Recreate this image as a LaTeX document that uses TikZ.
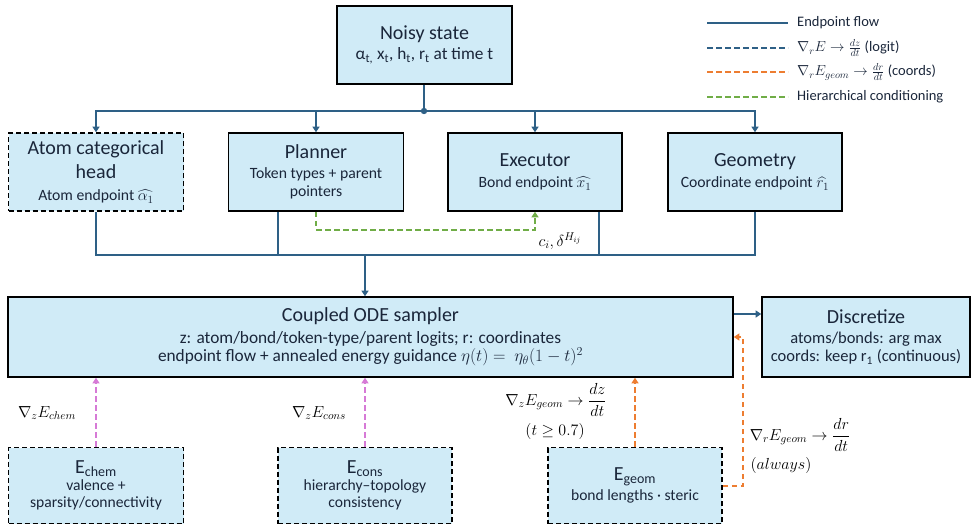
\documentclass[tikz,border=0pt]{standalone}
\usepackage{fix-cm}
\usepackage{amsmath}
\usepackage{fontspec}
\setmainfont{Carlito}
\usetikzlibrary{arrows.meta,calc}
\definecolor{boxfill}{RGB}{208,235,247}
\definecolor{flowc}{RGB}{46,96,134}
\definecolor{txtc}{RGB}{26,38,58}
\definecolor{orc}{RGB}{237,125,49}
\definecolor{grc}{RGB}{112,173,71}
\definecolor{pkc}{RGB}{214,122,214}
\newcommand{\myT}{\fontsize{20}{18}\selectfont}
\newcommand{\myS}{\fontsize{15.7}{18}\selectfont}
\newcommand{\myB}{\fontsize{17.3}{18}\selectfont}
\newcommand{\myE}{\fontsize{16.5}{18}\selectfont}
\newcommand{\myF}{\fontsize{15.6}{17}\selectfont}
\newcommand{\myL}{\fontsize{14.5}{16}\selectfont}
\newcommand{\myM}{\fontsize{16}{19}\selectfont}
\begin{document}
\begin{tikzpicture}[x=1pt,y=-1pt,
  box/.style={draw=black, line width=1.6pt, fill=boxfill, text=txtc, align=center, inner sep=2pt, anchor=center, font=\myS},
  dbox/.style={box, dash pattern=on 5pt off 3pt},
  flow/.style={draw=flowc, line width=1.8pt},
  tip/.style={-{Triangle[width=7pt,length=5.5pt]}},
  dashc/.style={line width=2pt, dash pattern=on 5.5pt off 3.5pt},
  lbl/.style={text=black, inner sep=0pt, anchor=center},
  leg/.style={text=txtc, inner sep=0pt, anchor=west, font=\myL}
]
\useasboundingbox (0,0) rectangle (980,525);

% Top
\node[box, minimum width=175pt, minimum height=78pt, font=\myB] (noisy) at (424.5,45)
  {\myT Noisy state\\[2pt]\myB α\textsubscript{t,} x\textsubscript{t}, h\textsubscript{t}, r\textsubscript{t} at time t};

% Row 2
\node[dbox, minimum width=175pt, minimum height=78pt] (atom) at (96,172)
  {\myT Atom categorical\\[6pt]\myT head\\[4pt]\myS Atom endpoint $\widehat{\alpha_1}$};
\node[box, minimum width=175pt, minimum height=78pt] (planner) at (316,172)
  {\myT Planner\\[2pt]\myS Token types + parent\\\myS pointers};
\node[box, minimum width=174pt, minimum height=78pt] (executor) at (535,172)
  {\myT Executor\\[3pt]\myS Bond endpoint $\widehat{x_1}$};
\node[box, minimum width=174pt, minimum height=78pt] (geometry) at (755,172)
  {\myT Geometry\\[3pt]\myS Coordinate endpoint $\widehat{r_1}$};

% Row 3
\node[box, minimum width=725pt, minimum height=80pt, font=\myB] (coupled) at (370.5,337)
  {\myT Coupled ODE sampler\\[4pt]\myB z: atom/bond/token-type/parent logits; r: coordinates\\\myB endpoint flow + annealed energy guidance $\eta(t) =\ \eta_\theta(1-t)^2$};
\node[box, minimum width=208pt, minimum height=80pt, font=\myE] (disc) at (866,337)
  {\myT Discretize\\[2pt]\myE atoms/bonds: arg max\\\myE coords: keep r\textsubscript{1} (continuous)};

% Row 4
\node[dbox, minimum width=175pt, minimum height=76pt, font=\myF] (echem) at (96,485.5)
  {\myT E\textsubscript{chem}\\\myF valence +\\\myF sparsity/connectivity};
\node[dbox, minimum width=174pt, minimum height=76pt, font=\myF] (econs) at (365,485.5)
  {\myT E\textsubscript{cons}\\\myF hierarchy–topology\\\myF consistency};
\node[dbox, minimum width=174pt, minimum height=76pt, font=\myF] (egeom) at (635,485.5)
  {\myT E\textsubscript{geom}\\[3pt]\myF bond lengths · steric};

% Top bus
\coordinate (bus) at (424,111);
\draw[flow] (noisy.south -| bus) -- (bus);
\fill[flowc] (bus) circle (3.2pt);
\draw[flow,tip] (bus) -| (atom.north);
\draw[flow,tip] (bus) -| (planner.north);
\draw[flow,tip] (bus) -| (executor.north);
\draw[flow,tip] (bus) -| (geometry.north);

% Bottom bus
\coordinate (merge) at (365,255);
\coordinate (plx) at (278,0);
\coordinate (exx) at (599,0);
\draw[flow] (atom.south) |- (merge);
\draw[flow] (geometry.south) |- (merge);
\draw[flow] (planner.south -| plx) -- (plx |- merge);
\draw[flow] (executor.south -| exx) -- (exx |- merge);
\draw[flow,tip] (merge) -- (merge |- coupled.north);

% Coupled -> Discretize
\coordinate (cd) at (0,314);
\draw[flow,tip] (coupled.east |- cd) -- (disc.west |- cd);

% Hierarchical conditioning
\draw[grc,dashc,-{Triangle[width=7pt,length=5.5pt]}] (planner.south) -- ++(0,18) -| (executor.south);
\node[lbl, font=\myM] (lc) at (560,241) {$c_i, \delta^{H_{ij}}$};

% Energy arrows
\draw[pkc,dashc,-{Triangle[width=7pt,length=5.5pt]}] (echem.north) -- (echem.north |- coupled.south);
\draw[pkc,dashc,-{Triangle[width=7pt,length=5.5pt]}] (econs.north) -- (econs.north |- coupled.south);
\draw[orc,dashc,-{Triangle[width=7pt,length=5.5pt]}] (egeom.north) -- (egeom.north |- coupled.south);
\draw[orc,dashc,-{Triangle[width=7pt,length=5.5pt]}] (egeom.east) -| ($(coupled.east)+(9.5,0)$) -- (coupled.east);

\node[lbl, font=\myM] (lchem) at (47,413) {$\nabla_z E_{chem}$};
\node[lbl, font=\myM] (lcons) at (319,413) {$\nabla_z E_{cons}$};
\node[lbl, font=\myM] (lgz) at (556,400) {$\nabla_z E_{geom} \rightarrow \dfrac{dz}{dt}$};
\node[lbl, font=\myM] (lgzt) at (555,431) {$(t \geq 0.7)$};
\node[lbl, font=\myM] (lgr) at (800,435) {$\nabla_r E_{geom} \rightarrow \dfrac{dr}{dt}$};
\node[lbl, font=\myM] (lgra) at (781,465) {$(always)$};

% Legend
\draw[flowc, line width=1.8pt] (707,23) -- (788,23);
\node[leg] (leg1) at (797,23) {Endpoint flow};
\draw[flowc, dashc] (707,48) -- (788,48);
\node[leg] (leg2) at (797,48) {$\nabla_r E \rightarrow \frac{dz}{dt}$ (logit)};
\draw[orc, dashc] (707,72) -- (788,72);
\node[leg] (leg3) at (797,72) {$\nabla_r E_{geom} \rightarrow \frac{dr}{dt}$ (coords)};
\draw[grc, dashc] (707,97) -- (788,97);
\node[leg] (leg4) at (797,97) {Hierarchical conditioning};
\end{tikzpicture}
\end{document}
